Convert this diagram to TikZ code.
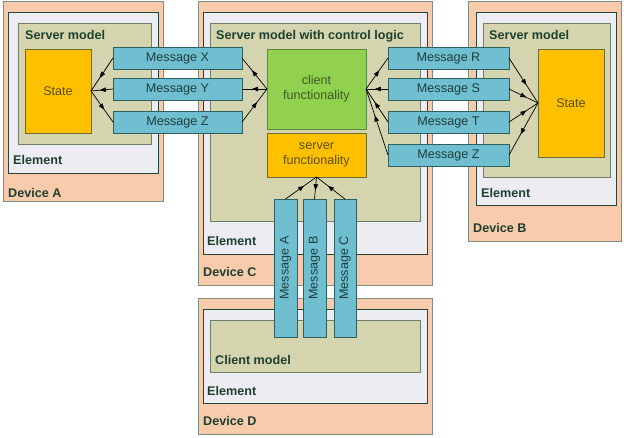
\documentclass[tikz,border=0pt]{standalone}
\usepackage{fontspec}
\setmainfont{Liberation Sans}
\usetikzlibrary{arrows.meta,decorations.markings}
\definecolor{devfill}{HTML}{F8CBAD}
\definecolor{devdraw}{HTML}{7A8F80}
\definecolor{elfill}{HTML}{EEECF3}
\definecolor{eldraw}{HTML}{254535}
\definecolor{smfill}{HTML}{D4D4AE}
\definecolor{smdraw}{HTML}{6F806A}
\definecolor{stfill}{HTML}{FFC000}
\definecolor{stdraw}{HTML}{6F6A30}
\definecolor{msgfill}{HTML}{6FBFD0}
\definecolor{msgdraw}{HTML}{2F6060}
\definecolor{clfill}{HTML}{92D050}
\definecolor{cldraw}{HTML}{5A8A3A}
\definecolor{ttl}{HTML}{1F3F2F}
\definecolor{msgtxt}{HTML}{1F3F3F}
\definecolor{sttxt}{HTML}{5A5000}
\definecolor{cltxt}{HTML}{3A5A20}
\tikzset{
  rbox/.style={anchor=north west, inner sep=0pt, outer sep=0pt, line width=0.8pt},
  devbox/.style={rbox, fill=devfill, draw=devdraw},
  elbox/.style={rbox, fill=elfill, draw=eldraw},
  smbox/.style={rbox, fill=smfill, draw=smdraw},
  stbox/.style={rbox, fill=stfill, draw=stdraw},
  clbox/.style={rbox, fill=clfill, draw=cldraw},
  msgbox/.style={rbox, fill=msgfill, draw=msgdraw},
  ttltext/.style={anchor=base west, inner sep=0pt, text=ttl, font=\fontsize{12.6}{14}\selectfont\bfseries},
  intext/.style={inner sep=0pt, font=\fontsize{12.6}{15}\selectfont, align=center},
  conn/.style={draw=black, line width=0.7pt, postaction={decorate},
    decoration={markings, mark=at position 0.6 with {\arrow{Triangle[length=6pt,width=4.5pt]}}}},
}
\newcommand{\bx}[6]{\node[#1, minimum width=#5pt-#3pt, minimum height=#6pt-#4pt] (#2) at (#3,#4) {};}
\begin{document}
\begin{tikzpicture}[x=1pt,y=-1pt]
\fill[white] (0,0) rectangle (624,437);
\useasboundingbox (0,0) rectangle (624,437);
% Device A
\bx{devbox}{devA}{3}{1}{163}{201}
\bx{elbox}{elA}{8}{12}{158}{173}
\bx{smbox}{smA}{18}{23}{151}{144}
\bx{stbox}{stA}{25}{49}{91}{133}
% Device C
\bx{devbox}{devC}{198}{1}{432}{285}
\bx{elbox}{elC}{203}{12}{427}{254}
\bx{smbox}{smC}{210}{23}{420}{221}
\bx{clbox}{cl}{267}{49}{366}{129}
\bx{stbox}{sv}{267}{133}{366}{177}
% Device B
\bx{devbox}{devB}{468}{1}{621}{241}
\bx{elbox}{elB}{476}{12}{616}{205}
\bx{smbox}{smB}{483}{23}{610}{177}
\bx{stbox}{stB}{538}{49}{604}{157}
% Device D
\bx{devbox}{devD}{198}{298}{432}{434}
\bx{elbox}{elD}{203}{309}{427}{403}
\bx{smbox}{cm}{210}{320}{420}{372}
% Messages
\bx{msgbox}{mX}{113}{47}{242}{69}
\bx{msgbox}{mY}{113}{78}{242}{100}
\bx{msgbox}{mZ}{113}{111}{242}{133}
\bx{msgbox}{mR}{388}{47}{509}{69}
\bx{msgbox}{mS}{388}{78}{509}{100}
\bx{msgbox}{mT}{388}{111}{509}{133}
\bx{msgbox}{mZb}{388}{144}{509}{166}
\bx{msgbox}{mA}{274}{199}{297}{337}
\bx{msgbox}{mB}{303}{199}{326}{337}
\bx{msgbox}{mC}{334}{199}{356}{337}
% Titles
\node[ttltext] (tA1) at (25,39.5) {Server model};
\node[ttltext] (tA2) at (13,164.5) {Element};
\node[ttltext] (tA3) at (8,197.5) {Device A};
\node[ttltext] (tC1) at (216,39.5) {Server model with control logic};
\node[ttltext] (tC2) at (207,245.5) {Element};
\node[ttltext] (tC3) at (203,276.5) {Device C};
\node[ttltext] (tB1) at (489,39.5) {Server model};
\node[ttltext] (tB2) at (481,197.5) {Element};
\node[ttltext] (tB3) at (473,232.5) {Device B};
\node[ttltext] (tD1) at (215,364.5) {Client model};
\node[ttltext] (tD2) at (207,395.5) {Element};
\node[ttltext] (tD3) at (203,425.5) {Device D};
% Inner texts
\node[intext, text=sttxt] (lstA) at (stA.center) {State};
\node[intext, text=sttxt] (lstB) at (stB.center) {State};
\node[intext, text=cltxt] (lcl) at (cl.center) {client\\functionality};
\node[intext, text=sttxt] (lsv) at (sv.center) {server\\functionality};
\node[intext, text=msgtxt] (lX) at (mX.center) {Message X};
\node[intext, text=msgtxt] (lY) at (mY.center) {Message Y};
\node[intext, text=msgtxt] (lZ) at (mZ.center) {Message Z};
\node[intext, text=msgtxt] (lR) at (mR.center) {Message R};
\node[intext, text=msgtxt] (lS) at (mS.center) {Message S};
\node[intext, text=msgtxt] (lT) at (mT.center) {Message T};
\node[intext, text=msgtxt] (lZb) at (mZb.center) {Message Z};
\node[intext, text=msgtxt, rotate=90] (lA) at (mA.center) {Message A};
\node[intext, text=msgtxt, rotate=90] (lB) at (mB.center) {Message B};
\node[intext, text=msgtxt, rotate=90] (lC) at (mC.center) {Message C};
% Connectors
\draw[conn] (mX.west) -- (stA.east);
\draw[conn] (mY.west) -- (stA.east);
\draw[conn] (stA.east) -- (mZ.west);
\draw[conn] (cl.west) -- (mX.east);
\draw[conn] (cl.west) -- (mY.east);
\draw[conn] (mZ.east) -- (cl.west);
\draw[conn] (cl.east) -- (mR.west);
\draw[conn] (mS.west) -- (cl.east);
\draw[conn] (mT.west) -- (cl.east);
\draw[conn] (mZb.west) -- (cl.east);
\draw[conn] (mR.east) -- (stB.west);
\draw[conn] (mS.east) -- (stB.west);
\draw[conn] (mT.east) -- (stB.west);
\draw[conn] (stB.west) -- (mZb.east);
\draw[conn] (mA.north) -- (sv.south);
\draw[conn] (sv.south) -- (mB.north);
\draw[conn] (mC.north) -- (sv.south);
\end{tikzpicture}
\end{document}
